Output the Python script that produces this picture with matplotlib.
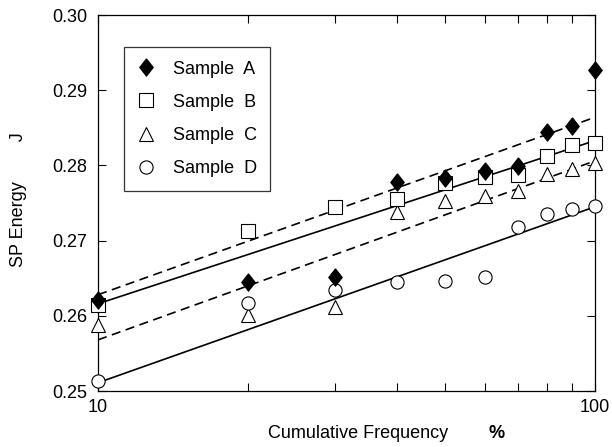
import matplotlib.pyplot as plt
from matplotlib.ticker import NullFormatter

plt.rcParams['font.family'] = ['Liberation Sans', 'DejaVu Sans']
plt.rcParams['font.size'] = 13

# data
freq = [10, 20, 30, 40, 50, 60, 70, 80, 90, 100]
sample_a = [0.2621, 0.2645, 0.2652, 0.2778, 0.2783, 0.2792, 0.2799, 0.2844, 0.2853, 0.2927]
sample_b = [0.2615, 0.2713, 0.2745, 0.2755, 0.2777, 0.2785, 0.2787, 0.2812, 0.2827, 0.2830]
sample_c = [0.2588, 0.2601, 0.2612, 0.2738, 0.2753, 0.2759, 0.2766, 0.2789, 0.2795, 0.2803]
sample_d = [0.2513, 0.2617, 0.2634, 0.2645, 0.2646, 0.2651, 0.2718, 0.2736, 0.2742, 0.2746]

# fitted lines (values at 10 and 100)
fit_x = [10, 100]
fit_a = [0.2628, 0.2864]
fit_b = [0.2616, 0.2833]
fit_c = [0.2568, 0.2806]
fit_d = [0.2511, 0.2745]

y_ticks = [0.25, 0.26, 0.27, 0.28, 0.29, 0.30]

fig = plt.figure(figsize=(6.12, 4.47), dpi=100)
ax = fig.add_axes([98/612, 1-391/447, 497/612, 376/447])

dash = (0, (5.5, 3.3))
ax.plot(fit_x, fit_a, color='black', lw=1.2, linestyle=dash, zorder=2)
ax.plot(fit_x, fit_b, color='black', lw=1.2, zorder=2)
ax.plot(fit_x, fit_c, color='black', lw=1.2, linestyle=dash, zorder=2)
ax.plot(fit_x, fit_d, color='black', lw=1.2, zorder=2)

diamond = [(0, 1), (0.78, 0), (0, -1), (-0.78, 0), (0, 1)]
kw = dict(linestyle='none', markeredgecolor='black', markeredgewidth=0.8, clip_on=False)
hc, = ax.plot(freq, sample_c, marker='^', markersize=10.5, markerfacecolor='white', zorder=4, **kw)
hd, = ax.plot(freq, sample_d, marker='o', markersize=9.5, markerfacecolor='white', zorder=5, **kw)
hb, = ax.plot(freq, sample_b, marker='s', markersize=10, markerfacecolor='white', zorder=6, **kw)
ha, = ax.plot(freq, sample_a, marker=diamond, markersize=12.5, markerfacecolor='black', zorder=7, **kw)

ax.set_xscale('log')
ax.set_xlim(10, 100)
ax.set_ylim(0.25, 0.30)
ax.set_xticks([10, 100], ['10', '100'])
ax.xaxis.set_minor_formatter(NullFormatter())
ax.set_yticks(y_ticks, [f'{v:.2f}' for v in y_ticks])

ax.tick_params(which='both', direction='in', top=True, right=True, length=6, width=0.8)
ax.tick_params(axis='x', which='both', pad=6)
ax.tick_params(axis='y', pad=8)
for s in ax.spines.values():
    s.set_linewidth(0.9)

leg = ax.legend([ha, hb, hc, hd], ['Sample  A', 'Sample  B', 'Sample  C', 'Sample  D'],
                loc='upper left', bbox_to_anchor=(0.052, 0.915), numpoints=1,
                handlelength=1.0, handletextpad=0.95, labelspacing=0.9,
                borderpad=0.75, borderaxespad=0, fancybox=False, frameon=True)
leg.get_frame().set_edgecolor('black')
leg.get_frame().set_linewidth(0.9)

fig.text(19/612, 1-200/447, 'SP Energy        J', rotation=90, ha='center', va='center')
fig.text(268/612, 1-434/447, 'Cumulative Frequency', ha='left', va='center')
fig.text(497/612, 1-434/447, '%', ha='center', va='center', fontweight='bold')

fig.savefig('out.png', dpi=100)
